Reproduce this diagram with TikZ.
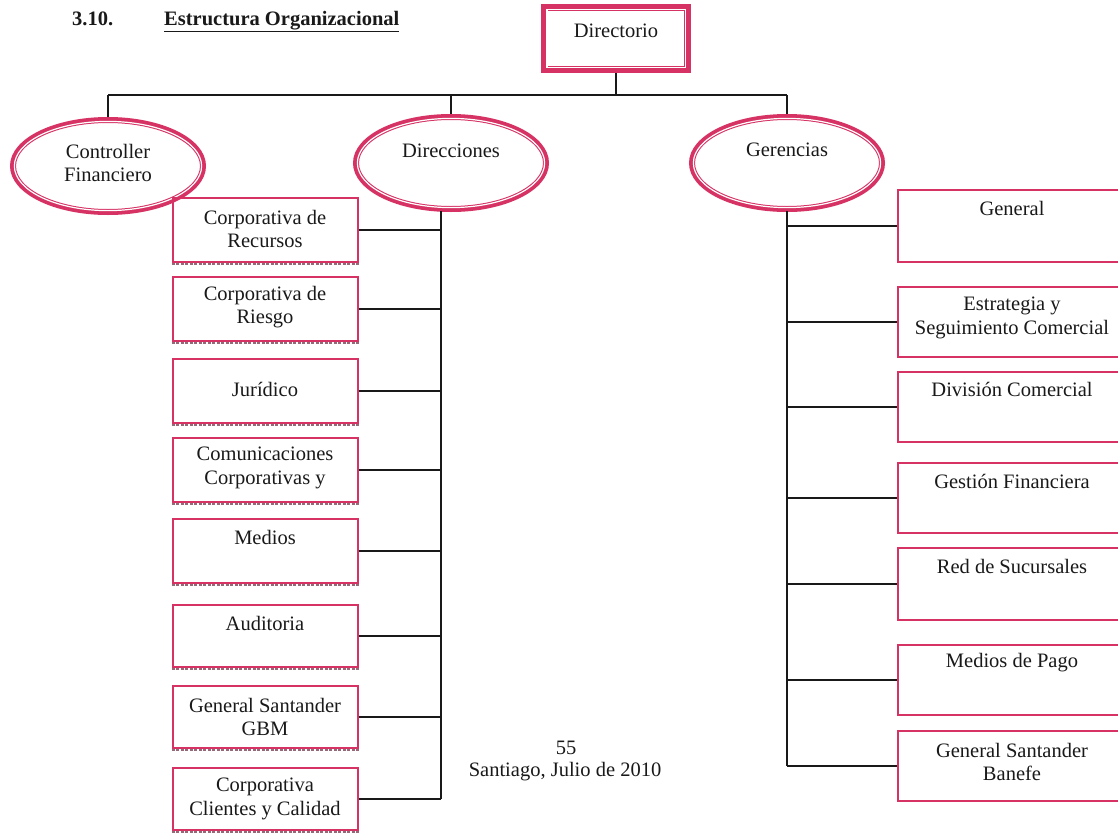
\documentclass[tikz,border=0pt]{standalone}
\usepackage{fontspec}
\setmainfont{Liberation Serif}
\usetikzlibrary{shapes.geometric}
\definecolor{rosa}{RGB}{214,50,100}
\definecolor{ink}{RGB}{25,25,25}
\definecolor{smudge}{RGB}{150,105,120}
\tikzset{
  txt/.style={inner sep=0pt, align=center, text=ink, font=\fontsize{20.5}{23.5}\selectfont},
  headtxt/.style={inner sep=0pt, text=ink, font=\fontsize{20.5}{23.5}\selectfont\bfseries},
  oval/.style={ellipse, inner sep=0pt, minimum width=196pt, minimum height=98pt},
  ring/.style={draw=rosa, line width=6pt},
  ringgap/.style={draw=white, line width=1.2pt},
  unitbox/.style={rectangle, draw=rosa, line width=2pt, inner sep=0pt, minimum width=185pt},
  mgmtbox/.style={rectangle, draw=rosa, line width=2pt, inner sep=0pt, minimum width=229pt},
  scanedge/.style={draw=smudge, line width=2pt, dash pattern=on 3pt off 1.5pt},
  wire/.style={draw=ink, line width=2pt},
}
\begin{document}
\begin{tikzpicture}[x=1pt,y=-1pt]
\clip (0,0) rectangle (1118,833);
\fill[white] (0,0) rectangle (1118,833);

% heading
\node[headtxt, anchor=base west] (secnum) at (72,25) {3.10.};
\node[headtxt, anchor=base west] (sectitle) at (164,25) {\underline{Estructura Organizacional}};

% board
\node[rectangle, inner sep=0pt, minimum width=149pt, minimum height=69pt] (board) at (616,38.5) {};
\draw[rosa, line width=7pt] ([shift={(3.5pt,-3.5pt)}]board.north west) rectangle ([shift={(-3.5pt,3.5pt)}]board.south east);
\draw[white, line width=1.2pt] ([shift={(5.6pt,-5.6pt)}]board.north west) rectangle ([shift={(-5.6pt,5.6pt)}]board.south east);
\node[txt] (boardtxt) at (616,31) {Directorio};

% three branches
\node[oval] (ctrl) at (108,166) {};
\node[oval] (dirs) at (451,163) {};
\node[oval] (gers) at (787,163) {};
\foreach \n in {ctrl,dirs,gers}{
  \draw[ring] (\n.center) ellipse [x radius=95pt, y radius=46pt];
  \draw[ringgap] (\n.center) ellipse [x radius=93.6pt, y radius=44.6pt];
}
\node[txt] (ctrltxt) at (108,163) {Controller\\Financiero};
\node[txt] (dirstxt) at (451,151) {Direcciones};
\node[txt] (gerstxt) at (787,150) {Gerencias};

% top connectors
\coordinate (barL) at (108,95);
\coordinate (barR) at (787,95);
\draw[wire] (barL) -- (barR);
\draw[wire] (board.south) -- (board.south |- barL);
\draw[wire] (barL) -- (ctrl.north);
\draw[wire] (dirs.north |- barL) -- (dirs.north);
\draw[wire] (gers.north |- barL) -- (gers.north);

% Direcciones units
\node[unitbox, minimum height=64pt] (d1) at (265,230) {};
\node[unitbox, minimum height=64pt] (d2) at (265,309) {};
\node[unitbox, minimum height=64pt] (d3) at (265,391) {};
\node[unitbox, minimum height=64pt] (d4) at (265,470) {};
\node[unitbox, minimum height=64pt] (d5) at (265,551) {};
\node[unitbox, minimum height=62pt] (d6) at (265,636) {};
\node[unitbox, minimum height=62pt] (d7) at (265,717) {};
\node[unitbox, minimum height=62pt] (d8) at (265,799) {};
\foreach \n in {d1,d2,d3,d4,d5,d6,d7,d8}{
  \draw[scanedge] ([yshift=-0.8pt]\n.south west) -- ([yshift=-0.8pt]\n.south east);
}
\node[txt] (d1txt) at (265,229) {Corporativa de\\Recursos};
\node[txt] (d2txt) at (265,307) {Corporativa de\\Riesgo};
\node[txt] (d3txt) at (265,389) {Jurídico};
\node[txt] (d4txt) at (265,468) {Comunicaciones\\Corporativas y};
\node[txt] (d5txt) at (265,537) {Medios};
\node[txt] (d6txt) at (265,623) {Auditoria};
\node[txt] (d7txt) at (265,717) {General Santander\\GBM};
\node[txt] (d8txt) at (265,799) {Corporativa\\Clientes y Calidad};

\coordinate (ltrunk) at (441,211);
\draw[wire] (ltrunk) -- (ltrunk |- d8.east);
\foreach \n in {d1,d2,d3,d4,d5,d6,d7,d8}{
  \draw[wire] (\n.east) -- (\n.east -| ltrunk);
}

% Gerencias units
\node[mgmtbox, minimum height=72pt] (g1) at (1012,226) {};
\node[mgmtbox, minimum height=70pt] (g2) at (1012,322) {};
\node[mgmtbox, minimum height=70pt] (g3) at (1012,407) {};
\node[mgmtbox, minimum height=70pt] (g4) at (1012,498) {};
\node[mgmtbox, minimum height=72pt] (g5) at (1012,584) {};
\node[mgmtbox, minimum height=70pt] (g6) at (1012,680) {};
\node[mgmtbox, minimum height=70pt] (g7) at (1012,766) {};
\node[txt] (g1txt) at (1012,208) {General};
\node[txt] (g2txt) at (1012,318) {Estrategia y\\Seguimiento Comercial};
\node[txt] (g3txt) at (1012,389) {División Comercial};
\node[txt] (g4txt) at (1012,481) {Gestión Financiera};
\node[txt] (g5txt) at (1012,566) {Red de Sucursales};
\node[txt] (g6txt) at (1012,663) {Medios de Pago};
\node[txt] (g7txt) at (1012,762) {General Santander\\Banefe};

\coordinate (rtrunk) at (787,211);
\draw[wire] (rtrunk) -- (rtrunk |- g7.west);
\foreach \n in {g1,g2,g3,g4,g5,g6,g7}{
  \draw[wire] (\n.west) -- (\n.west -| rtrunk);
}

% page footer
\node[txt] (pageno) at (566,748) {55};
\node[txt] (place) at (565,772) {Santiago, Julio de 2010};
\end{tikzpicture}
\end{document}
